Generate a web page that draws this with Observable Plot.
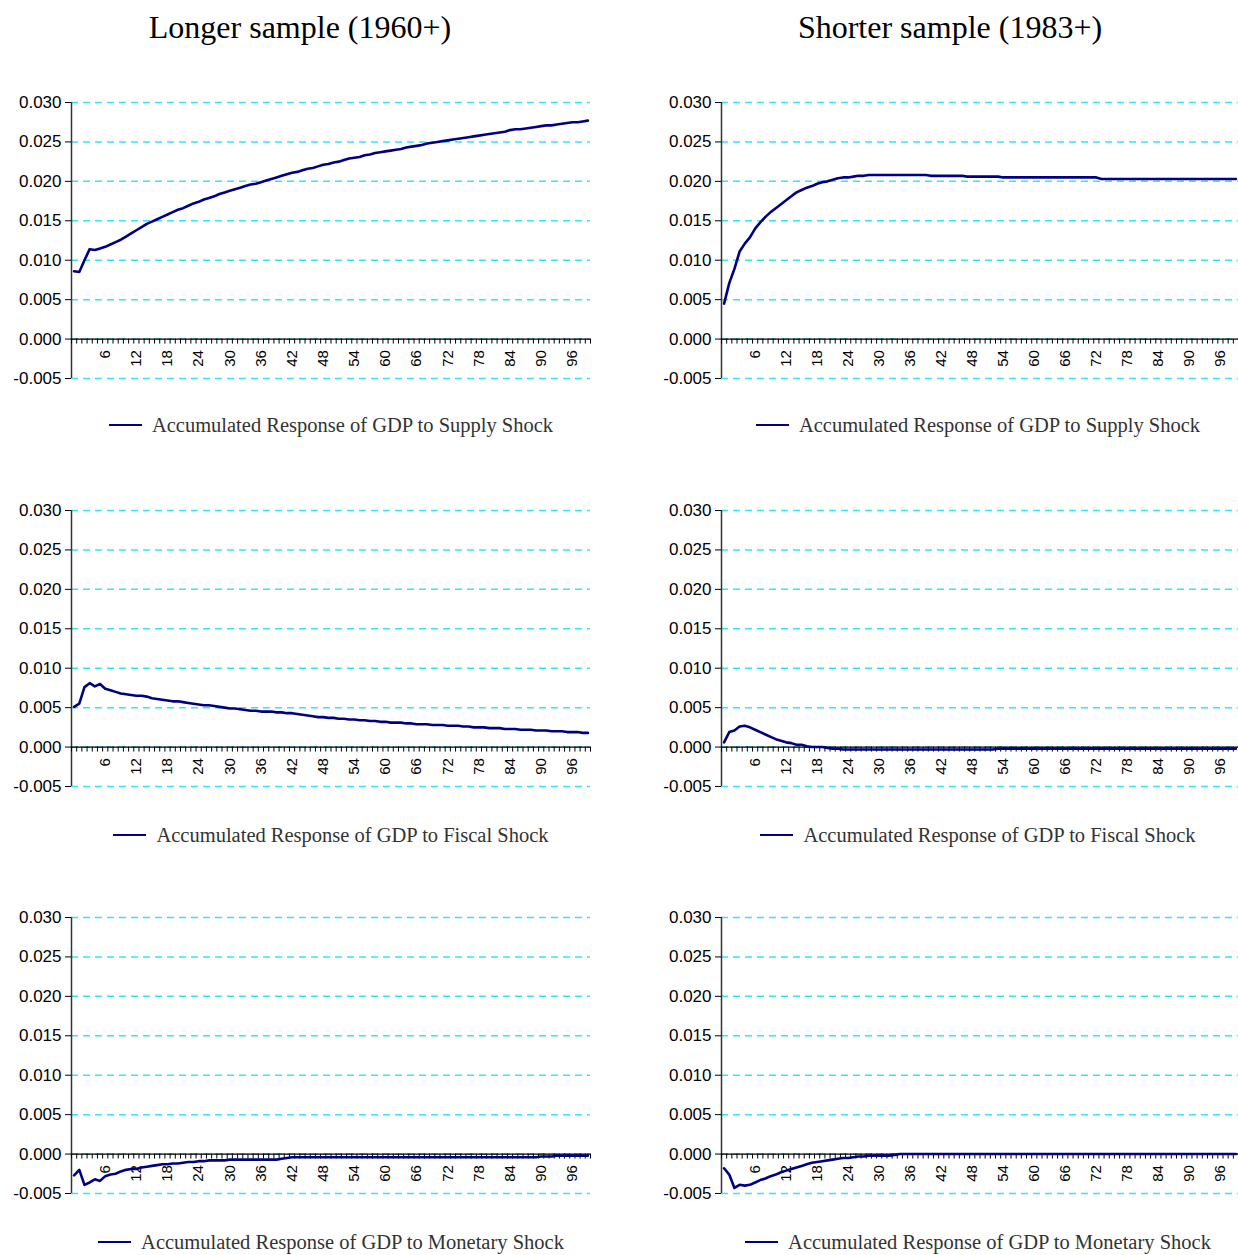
<!DOCTYPE html>
<html><head><meta charset="utf-8">
<script src="https://cdn.jsdelivr.net/npm/d3@7"></script>
<script src="https://cdn.jsdelivr.net/npm/@observablehq/plot@0.6"></script>
<style>
body{margin:0;background:#fff;}
#root{position:relative;width:1238px;height:1255px;overflow:hidden;background:#fff;}
.title{position:absolute;font-family:"Liberation Serif","Times New Roman",serif;font-size:32px;color:#000;text-align:center;white-space:nowrap;line-height:36px;height:36px;}
.legend{position:absolute;font-family:"Liberation Serif","Times New Roman",serif;font-size:20.5px;color:#333;white-space:nowrap;display:flex;align-items:center;justify-content:center;height:30px;}
.legend .sw{display:inline-block;width:33px;height:0;border-top:2.5px solid #000080;margin-right:10px;}
.panel{position:absolute;}
.panel svg{overflow:visible;}
</style></head><body><div id="root"></div>
<script>
const columnTitles = ["Longer sample (1960+)", "Shorter sample (1983+)"];
const shockNames = ["Supply", "Fiscal", "Monetary"];
const yTicks = [-0.005, 0.000, 0.005, 0.010, 0.015, 0.020, 0.025, 0.030];
const xTickLabels = [6, 12, 18, 24, 30, 36, 42, 48, 54, 60, 66, 72, 78, 84, 90, 96];
const periods = d3.range(100);

const supplyLong = [
.0086,.0085,.0100,.0114,.0113,.0115,.0117,.0120,.0123,.0126,
.0130,.0134,.0138,.0142,.0146,.0149,.0152,.0155,.0158,.0161,
.0164,.0166,.0169,.0172,.0174,.0177,.0179,.0181,.0184,.0186,
.0188,.0190,.0192,.0194,.0196,.0197,.0199,.0201,.0203,.0205,
.0207,.0209,.0211,.0212,.0214,.0216,.0217,.0219,.0221,.0222,
.0224,.0225,.0227,.0229,.0230,.0231,.0233,.0234,.0236,.0237,
.0238,.0239,.0240,.0241,.0243,.0244,.0245,.0246,.0248,.0249,
.0250,.0251,.0252,.0253,.0254,.0255,.0256,.0257,.0258,.0259,
.0260,.0261,.0262,.0263,.0265,.0266,.0266,.0267,.0268,.0269,
.0270,.0271,.0271,.0272,.0273,.0274,.0275,.0275,.0276,.0277];

const supplyShort = [
.0045,.0071,.0089,.0111,.0121,.0129,.0140,.0148,.0155,.0161,
.0166,.0171,.0176,.0181,.0186,.0189,.0192,.0194,.0197,.0199,
.0200,.0202,.0204,.0205,.0205,.0206,.0207,.0207,.0208,.0208,
.0208,.0208,.0208,.0208,.0208,.0208,.0208,.0208,.0208,.0208,
.0207,.0207,.0207,.0207,.0207,.0207,.0207,.0206,.0206,.0206,
.0206,.0206,.0206,.0206,.0205,.0205,.0205,.0205,.0205,.0205,
.0205,.0205,.0205,.0205,.0205,.0205,.0205,.0205,.0205,.0205,
.0205,.0205,.0205,.0203,.0203,.0203,.0203,.0203,.0203,.0203,
.0203,.0203,.0203,.0203,.0203,.0203,.0203,.0203,.0203,.0203,
.0203,.0203,.0203,.0203,.0203,.0203,.0203,.0203,.0203,.0203];

const fiscalLong = [
.0051,.0055,.0076,.0081,.0077,.0080,.0074,.0072,.0070,.0068,
.0067,.0066,.0065,.0065,.0064,.0062,.0061,.0060,.0059,.0058,
.0058,.0057,.0056,.0055,.0054,.0053,.0053,.0052,.0051,.0050,
.0049,.0049,.0048,.0047,.0046,.0046,.0045,.0045,.0045,.0044,
.0044,.0043,.0043,.0042,.0041,.0040,.0039,.0038,.0038,.0037,
.0037,.0036,.0036,.0035,.0035,.0034,.0034,.0033,.0033,.0032,
.0032,.0031,.0031,.0031,.0030,.0030,.0029,.0029,.0029,.0028,
.0028,.0028,.0027,.0027,.0027,.0026,.0026,.0025,.0025,.0025,
.0024,.0024,.0024,.0023,.0023,.0023,.0022,.0022,.0022,.0021,
.0021,.0021,.0020,.0020,.0020,.0019,.0019,.0019,.0018,.0018];

const fiscalShort = [
.0006,.0019,.0021,.0026,.0027,.0025,.0022,.0019,.0016,.0013,
.0010,.0008,.0006,.0005,.0003,.0003,.0001,.0000,.0000,.0000,
-.0001,-.0002,-.0002,-.0003,-.0003,-.0003,-.0003,-.0003,-.0003,-.0003,
-.0003,-.0003,-.0003,-.0003,-.0003,-.0003,-.0003,-.0003,-.0003,-.0003,
-.0003,-.0003,-.0003,-.0003,-.0003,-.0003,-.0003,-.0003,-.0003,-.0003,
-.0003,-.0003,-.0003,-.0002,-.0002,-.0002,-.0002,-.0002,-.0002,-.0002,
-.0002,-.0002,-.0002,-.0002,-.0002,-.0002,-.0002,-.0002,-.0002,-.0002,
-.0002,-.0002,-.0002,-.0002,-.0002,-.0002,-.0002,-.0002,-.0002,-.0002,
-.0002,-.0002,-.0002,-.0002,-.0002,-.0002,-.0002,-.0002,-.0002,-.0002,
-.0002,-.0002,-.0002,-.0002,-.0002,-.0002,-.0002,-.0002,-.0002,-.0002];

const monetaryLong = [
-.0027,-.0020,-.0039,-.0036,-.0032,-.0034,-.0028,-.0026,-.0025,-.0022,
-.0020,-.0019,-.0019,-.0017,-.0016,-.0015,-.0014,-.0013,-.0013,-.0012,
-.0012,-.0011,-.0010,-.0010,-.0009,-.0009,-.0008,-.0008,-.0008,-.0008,
-.0007,-.0007,-.0007,-.0007,-.0007,-.0007,-.0007,-.0007,-.0007,-.0007,
-.0006,-.0005,-.0004,-.0004,-.0004,-.0004,-.0004,-.0004,-.0004,-.0004,
-.0004,-.0004,-.0004,-.0004,-.0004,-.0004,-.0004,-.0004,-.0004,-.0004,
-.0004,-.0004,-.0004,-.0004,-.0004,-.0004,-.0004,-.0004,-.0004,-.0004,
-.0004,-.0004,-.0004,-.0004,-.0004,-.0004,-.0004,-.0004,-.0004,-.0004,
-.0004,-.0004,-.0004,-.0004,-.0004,-.0004,-.0004,-.0004,-.0004,-.0004,
-.0003,-.0003,-.0003,-.0002,-.0002,-.0002,-.0002,-.0002,-.0002,-.0002];

const monetaryShort = [
-.0018,-.0026,-.0043,-.0039,-.0040,-.0039,-.0036,-.0033,-.0031,-.0028,
-.0026,-.0023,-.0021,-.0019,-.0017,-.0015,-.0013,-.0011,-.0010,-.0009,
-.0008,-.0007,-.0006,-.0005,-.0005,-.0004,-.0003,-.0003,-.0002,-.0002,
-.0002,-.0002,-.0002,-.0001,.0000,.0000,.0000,.0000,.0000,.0000,
.0000,.0000,.0000,.0000,.0000,.0000,.0000,.0000,.0000,.0000,
.0000,.0000,.0000,.0000,.0000,.0000,.0000,.0000,.0000,.0000,
.0000,.0000,.0000,.0000,.0000,.0000,.0000,.0000,.0000,.0000,
.0000,.0000,.0000,.0000,.0000,.0000,.0000,.0000,.0000,.0000,
.0000,.0000,.0000,.0000,.0000,.0000,.0000,.0000,.0000,.0000,
.0000,.0000,.0000,.0000,.0000,.0000,.0000,.0000,.0000,.0000];

const seriesGrid = [
  [supplyLong, supplyShort],
  [fiscalLong, fiscalShort],
  [monetaryLong, monetaryShort]
];

// layout
const yDomain = [-0.005, 0.030];
const panelTops = [102, 510, 917];   // pixel y of 0.030 line
const legendCenters = [425, 835, 1242];
const plotH = 276;
const root = document.getElementById("root");

columnTitles.forEach((t, c) => {
  const d = document.createElement("div");
  d.className = "title";
  d.style.left = (c === 0 ? 0 : 650) + "px";
  d.style.width = "600px";
  d.style.top = "9px";
  d.textContent = t;
  root.appendChild(d);
});

function panel(values, col, row) {
  const data = periods.map((p, i) => ({p, v: values[i]}));
  const left = col === 0 ? 0 : 650;
  const width = col === 0 ? 600 : 588;
  const marginRight = col === 0 ? 10 : 0;
  const tickLen = (yDomain[1] - yDomain[0]) / plotH * 5;
  const catEdges = d3.range(-0.5, 100, 1);
  const svg = Plot.plot({
    width, height: plotH + 24,
    marginLeft: 71, marginRight, marginTop: 12, marginBottom: 12,
    style: {fontFamily: '"Liberation Sans", Arial, sans-serif', fontSize: "17px", color: "#000", background: "transparent"},
    x: {domain: [-0.5, 99.5], axis: null},
    y: {domain: yDomain},
    marks: [
      Plot.ruleY(yTicks, {stroke: "#2ee8f8", strokeDasharray: "7,5", strokeWidth: 1.5}),
      Plot.ruleX([-0.5], {y1: yDomain[0], y2: yDomain[1], stroke: "#333", strokeWidth: 1.5}),
      Plot.axisY(yTicks, {tickFormat: d => d.toFixed(3), tickSize: 6, tickPadding: 4, label: null, fontSize: 17, stroke: "#000"}),
      Plot.ruleY([0], {x1: -0.5, x2: 99.5, stroke: "#000", strokeWidth: 1.2}),
      Plot.ruleX(catEdges, {y1: 0, y2: -tickLen, stroke: "#000", strokeWidth: 1}),
      Plot.text(xTickLabels, {x: d => d, y: 0, text: d => String(d), rotate: -90, textAnchor: "end", dy: 11, fontSize: 15, fill: "#000"}),
      Plot.line(data, {x: "p", y: "v", stroke: "#000080", strokeWidth: 2.6})
    ]
  });
  const wrap = document.createElement("div");
  wrap.className = "panel";
  wrap.style.left = left + "px";
  wrap.style.top = (panelTops[row] - 12) + "px";
  wrap.appendChild(svg);
  root.appendChild(wrap);

  const lg = document.createElement("div");
  lg.className = "legend";
  lg.style.left = (col === 0 ? 0 : 650) + "px";
  lg.style.width = (col === 0 ? 662 : 656) + "px";
  lg.style.top = (legendCenters[row] - 15) + "px";
  lg.innerHTML = `<span class="sw"></span><span>Accumulated Response of GDP to ${shockNames[row]} Shock</span>`;
  root.appendChild(lg);
}

seriesGrid.forEach((rowSeries, r) => rowSeries.forEach((vals, c) => panel(vals, c, r)));
</script></body></html>
